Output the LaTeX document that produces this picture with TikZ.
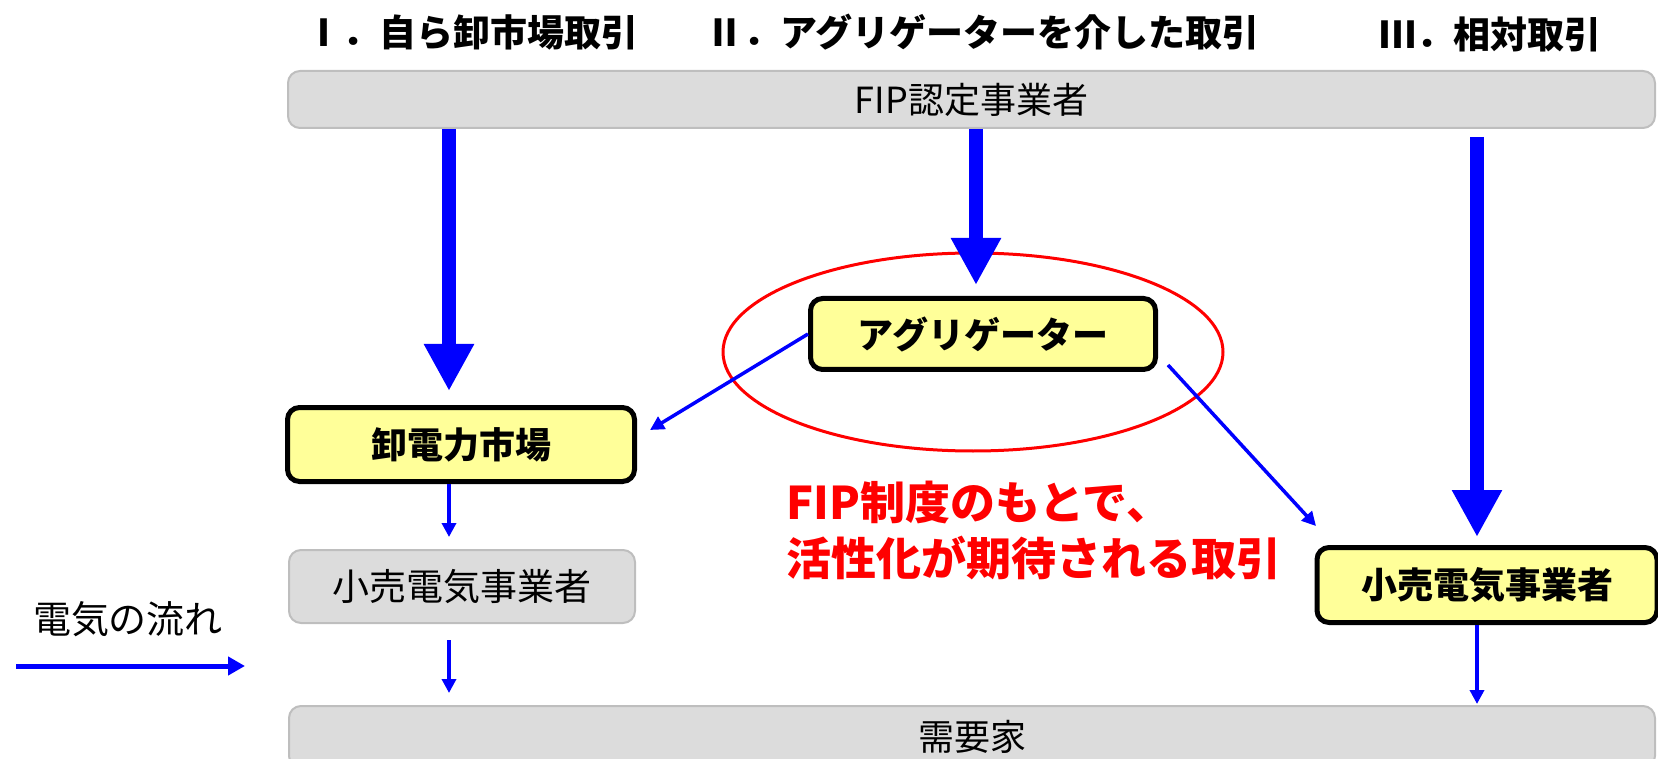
\documentclass[tikz,border=0pt]{standalone}
\usepackage{fontspec}
\setmainfont{Noto Sans CJK JP}
\usetikzlibrary{arrows.meta,shapes.geometric,calc}
\definecolor{ybox}{HTML}{FFFF99}
\definecolor{gfill}{HTML}{DCDCDC}
\definecolor{gline}{HTML}{BEBEBE}
\definecolor{fblue}{HTML}{0000FF}
\definecolor{fred}{HTML}{FF0000}
\begin{document}
\begin{tikzpicture}[x=1pt,y=-1pt,
 graybox/.style={draw=gline, line width=2pt, fill=gfill, rounded corners=12pt, inner sep=0pt, font=\fontsize{36}{40}\selectfont},
 yellowbox/.style={draw=black, line width=5pt, fill=ybox, rounded corners=12pt, inner sep=0pt, font=\bfseries\fontsize{36}{40}\selectfont},
 title/.style={font=\bfseries\fontsize{37}{40}\selectfont, inner sep=0pt},
 bigarrow/.style={draw=fblue, line width=14pt, -{Triangle[width=47pt,length=47pt]}},
 thinarrow/.style={draw=fblue, line width=3.5pt, -{Triangle[width=14pt,length=14pt]}},
]
\useasboundingbox (0,0) rectangle (1658,759);

% titles
\node[title] (ti1) at (472,32) {Ⅰ．自ら卸市場取引};
\node[title] (ti2) at (983,32) {Ⅱ．アグリゲーターを介した取引};
\node[title] (ti3) at (1490,34) {Ⅲ．相対取引};

% boxes
\node[graybox, minimum width=1367pt, minimum height=57pt] (fip) at (971.5,99.5) {FIP認定事業者};
\node[graybox, minimum width=1366pt, minimum height=62pt] (dem) at (972,737) {需要家};
\node[graybox, minimum width=346pt, minimum height=73pt, font=\fontsize{37}{40}\selectfont] (gret) at (462,586.5) {小売電気事業者};
\node[yellowbox, minimum width=347pt, minimum height=74pt] (wh) at (461,444.5) {卸電力市場};
\node[draw=fred, line width=3pt, ellipse, minimum width=500pt, minimum height=198pt, inner sep=0pt] (ell) at (973,352) {};
\node[yellowbox, minimum width=345pt, minimum height=71pt] (agg) at (983,334) {アグリゲーター};
\node[yellowbox, minimum width=340pt, minimum height=75pt] (yret) at (1487,585) {小売電気事業者};

% coordinates
\coordinate (a1) at (449,391);
\coordinate (a2) at (976,285);
\coordinate (a3s) at (1477,137);
\coordinate (a3) at (1477,537);
\coordinate (s1) at (449,537);
\coordinate (s2s) at (449,640);
\coordinate (s2) at (449,693);
\coordinate (s3) at (1477,704);
\coordinate (d1) at (650,430);
\coordinate (d2s) at (1168,365);
\coordinate (d2) at (1316,526);
\coordinate (l1) at (16,666);
\coordinate (l2) at (245,666);

% thick arrows
\draw[bigarrow] (fip.south -| a1) -- (a1);
\draw[bigarrow] (fip.south -| a2) -- (a2);
\draw[bigarrow] (a3s) -- (a3);

% thin arrows
\draw[thinarrow] (wh.south -| s1) -- (s1);
\draw[thinarrow] (s2s) -- (s2);
\draw[thinarrow] (yret.south -| s3) -- (s3);
\draw[thinarrow] (agg.west) -- (d1);
\draw[thinarrow] (d2s) -- (d2);

% red note
\node[anchor=west, inner sep=0pt, align=left, text=fred, font=\bfseries\fontsize{45}{56}\selectfont] (note) at (786,530) {FIP制度のもとで、\\活性化が期待される取引};

% legend
\node[font=\fontsize{38}{40}\selectfont, inner sep=0pt] (leg) at (128,619) {電気の流れ};
\draw[draw=fblue, line width=5pt, -{Triangle[width=18pt,length=17pt]}] (l1) -- (l2);
\end{tikzpicture}
\end{document}
